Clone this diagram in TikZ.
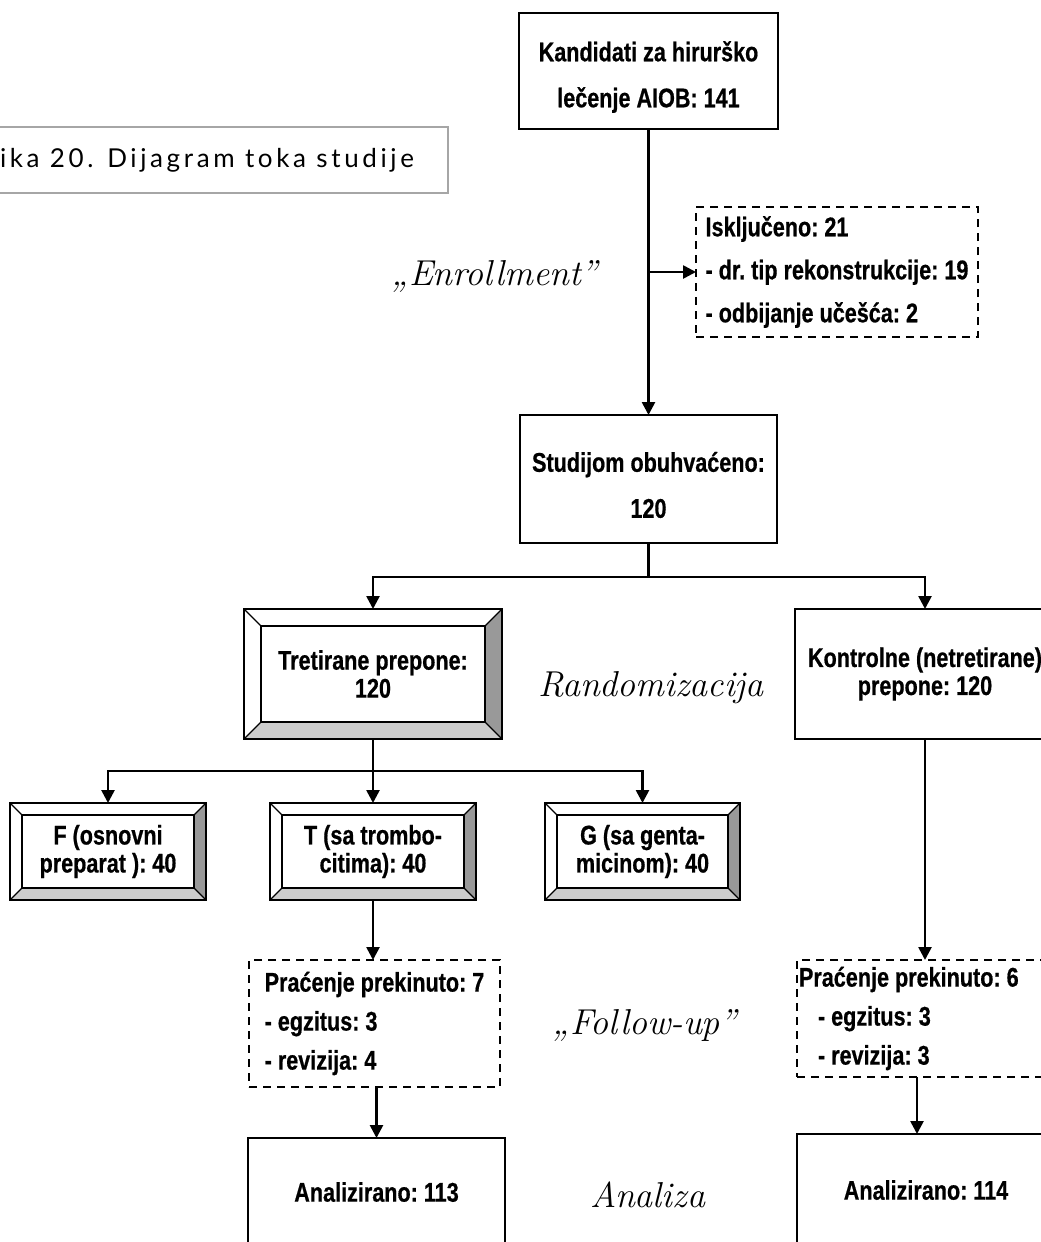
\documentclass[tikz,border=0pt]{standalone}
\usepackage{fontspec}
\usetikzlibrary{calc,arrows.meta}
\newfontfamily\boxfont[FakeStretch=0.8,FakeBold=0.6]{Liberation Sans}
\newfontfamily\capfont[LetterSpace=14]{Lato}
\definecolor{bevdark}{gray}{0.6}
\definecolor{bevlight}{gray}{0.8}
\definecolor{capline}{gray}{0.65}
\newcommand\boxtxt[1]{\boxfont\bfseries\fontsize{27}{#1}\selectfont\frenchspacing}
\newcommand\handtxt{\rmfamily\itshape\fontsize{36}{40}\selectfont}
% line set a little lower than its box slot
\newcommand\lowln[1]{\raisebox{-6pt}[\height][\depth]{#1}}
% raised frame drawn around a named node: #1 node, #2 bevel depth
\newcommand\bevelframe[2]{%
  \fill[white] (#1.north west) -- (#1.north east) -- ++(-#2,#2)
     -- ($(#1.north west)+(#2,#2)$) -- cycle;
  \fill[white] (#1.north west) -- ($(#1.north west)+(#2,#2)$)
     -- ($(#1.south west)+(#2,-#2)$) -- (#1.south west) -- cycle;
  \fill[bevdark] (#1.north east) -- (#1.south east) -- ++(-#2,-#2)
     -- ($(#1.north east)+(-#2,#2)$) -- cycle;
  \fill[bevlight] (#1.south west) -- (#1.south east) -- ++(-#2,-#2)
     -- ($(#1.south west)+(#2,-#2)$) -- cycle;
  \draw[line width=1.2pt] (#1.north west) -- ++(#2,#2)
     (#1.north east) -- ++(-#2,#2)
     (#1.south west) -- ++(#2,-#2)
     (#1.south east) -- ++(-#2,-#2);
  \draw[line width=2pt] ($(#1.north west)+(#2,#2)$) rectangle ($(#1.south east)+(-#2,-#2)$);
  \draw[line width=2.6pt] (#1.north west) rectangle (#1.south east);
}
\begin{document}
\begin{tikzpicture}[x=1pt,y=-1pt,
  every node/.style={inner sep=0pt, outer sep=0pt},
  box/.style={draw, line width=2.6pt, fill=white, align=center, font=\boxtxt{46}},
  bbox/.style={fill=white, align=center, font=\boxtxt{28}},
  dbox/.style={draw, line width=1.8pt, dash pattern=on 8pt off 6pt, fill=white, align=flush left},
  hand/.style={font=\handtxt},
  conn/.style={line width=2.6pt},
  arr/.style={conn, -{Triangle[length=13pt,width=13pt]}}]
\useasboundingbox (0,0) rectangle (1041,1242);

% caption frame
\node[draw=capline, line width=1.2pt, minimum width=468pt, minimum height=66pt] (capbox) at (214,160) {};
\node[anchor=west, font=\capfont\fontsize{26}{30}\selectfont] (captxt) at (0,160) {ika 20. Dijagram toka studije};

% enrollment
\node[box, minimum width=259pt, minimum height=116pt] (cand) at (648.5,71) {\lowln{Kandidati za hirurško}\\\lowln{lečenje AIOB: 141}};
\node[dbox, minimum width=282pt, minimum height=130pt, font=\boxtxt{43}] (excl) at (837,272)
  {Isključeno: 21\\- dr. tip rekonstrukcije: 19\\- odbijanje učešća: 2};
\node[box, minimum width=257pt, minimum height=128pt] (stud) at (648.5,479) {\lowln{Studijom obuhvaćeno:}\\\lowln{120}};
\node[hand] (enr) at (495,276) {„Enrollment”};

% randomisation
\node[bbox, minimum width=258pt, minimum height=130pt] (tret) at (373,674) {Tretirane prepone:\\120};
\node[box, font=\boxtxt{28}, minimum width=260pt, minimum height=130pt] (kont) at (925,674) {Kontrolne (netretirane)\\prepone: 120};
\node[hand] (rand) at (651,688) {Randomizacija};

\node[bbox, minimum width=196pt, minimum height=97pt] (fbox) at (108,851.5) {F (osnovni\\preparat ): 40};
\node[bbox, minimum width=206pt, minimum height=97pt] (tbox) at (373,851.5) {T (sa trombo-\\citima): 40};
\node[bbox, minimum width=195pt, minimum height=97pt] (gbox) at (642.5,851.5) {G (sa genta-\\micinom): 40};

% follow-up
\node[dbox, minimum width=251pt, minimum height=127pt, font=\boxtxt{39}] (fu1) at (374.5,1023.5)
  {Praćenje prekinuto: 7\\- egzitus: 3\\- revizija: 4};
\node[dbox, minimum width=256pt, minimum height=117pt, text width=252pt, font=\boxtxt{39}] (fu2) at (925,1018.5)
  {Praćenje prekinuto: 6\\\hspace*{19pt}- egzitus: 3\\\hspace*{19pt}- revizija: 3};
\node[hand] (fol) at (645,1025) {„Follow-up”};

% analysis
\node[box, font=\boxtxt{28}, minimum width=257pt, minimum height=108pt] (an1) at (376.5,1192) {Analizirano: 113};
\node[box, font=\boxtxt{28}, minimum width=258pt, minimum height=112pt] (an2) at (926,1190) {Analizirano: 114};
\node[hand] (anl) at (648,1195) {Analiza};

% raised frames
\bevelframe{tret}{17}
\bevelframe{fbox}{12}
\bevelframe{tbox}{12}
\bevelframe{gbox}{12}

% connectors
\draw[arr] (cand.south) -- (stud.north);
\draw[arr] (cand.south |- excl.west) -- (excl.west);
\coordinate (sp1) at (648.5,577);
\draw[conn] (stud.south) -- (sp1);
\draw[arr] (sp1) -| (tret.north);
\draw[arr] (sp1) -| (kont.north);
\coordinate (sp2) at (373,771);
\draw[conn] (tret.south) -- (sp2);
\draw[arr] (sp2) -| (fbox.north);
\draw[arr] (sp2) -| (gbox.north);
\draw[arr] (sp2) -- (tbox.north);
\draw[arr] (tbox.south) -- (tbox.south |- fu1.north);
\draw[arr] (an1.north |- fu1.south) -- (an1.north);
\draw[arr] (kont.south) -- (kont.south |- fu2.north);
\draw[arr] ([xshift=-9pt]an2.north |- fu2.south) -- ([xshift=-9pt]an2.north);
\end{tikzpicture}
\end{document}
